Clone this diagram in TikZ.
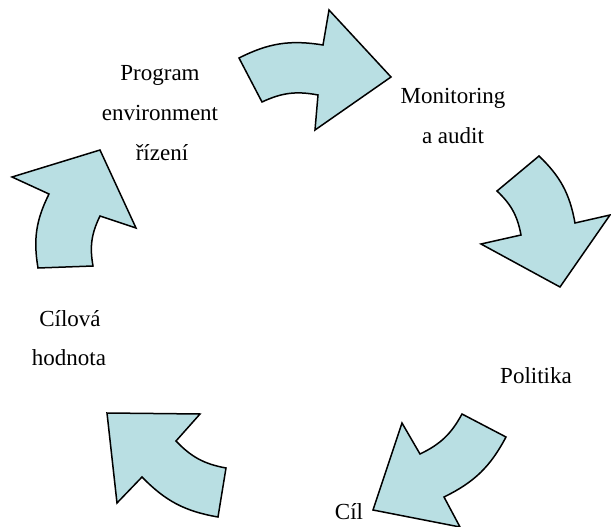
\documentclass[tikz,border=0pt]{standalone}
\usepackage{fontspec}
\setmainfont{Liberation Serif}
\definecolor{arrowfill}{RGB}{185,223,227}
\begin{document}
\begin{tikzpicture}[x=1pt,y=-1pt,
  cyc/.style={draw=black,fill=arrowfill,line width=1.5pt,line join=miter},
  lbl/.style={font=\fontsize{23}{28}\selectfont,anchor=base,inner sep=0pt}]
\useasboundingbox (0,0) rectangle (611,527);
% arrow 1 (top)
\draw[cyc] (239,58) to[bend left=18] (323,45) -- (329,10) -- (391,77) -- (315,130) -- (318,95) to[bend right=18] (262,102) -- cycle;
% arrow 2 (right)
\draw[cyc] (539,156) -- (497,191) to[bend left=18] (521,235) -- (481,244) -- (560,287) -- (610,215) -- (575,223) to[bend right=18] cycle;
% arrow 3 (bottom right)
\draw[cyc] (462,414) -- (506,437) to[bend left=18] (444,497) -- (460,527) -- (373,510) -- (402,423) -- (420,454) to[bend right=18] cycle;
% arrow 4 (bottom left)
\draw[cyc] (107,413) -- (200,414) -- (176,441) to[bend right=18] (226,468) -- (218,517) to[bend left=18] (142,477) -- (117,503) -- cycle;
% arrow 5 (left)
\draw[cyc] (100,150) -- (12,177) -- (49,194) to[bend right=18] (38,268) -- (93,266) to[bend left=18] (100,216) -- (136,228) -- cycle;
% labels
\node[lbl] (p1) at (160,81) {Program};
\node[lbl] (p2) at (160,121) {environment};
\node[lbl] (p3) at (162,160) {řízení};
\node[lbl] (m1) at (453,103) {Monitoring};
\node[lbl] (m2) at (453,143) {a audit};
\node[lbl] (c1) at (70,326) {Cílová};
\node[lbl] (c2) at (69,365) {hodnota};
\node[lbl] (pol) at (536,383) {Politika};
\node[lbl] (cil) at (349,519) {Cíl};
\end{tikzpicture}
\end{document}
